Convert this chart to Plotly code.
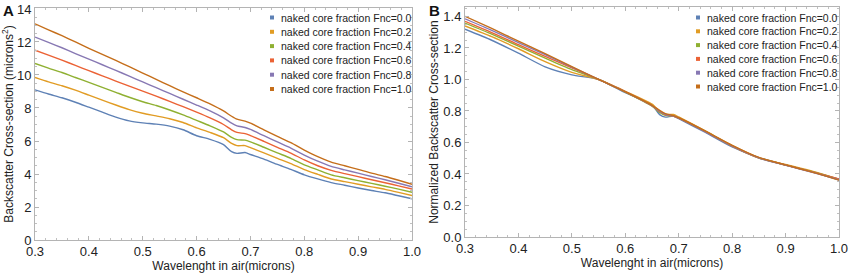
import plotly.graph_objects as go

# ---------------- data ----------------
wavelength_a = [0.30, 0.325, 0.35, 0.375, 0.40, 0.425, 0.45, 0.475, 0.50, 0.525, 0.55, 0.575,
                0.60, 0.625, 0.65, 0.665, 0.675, 0.69, 0.70, 0.725, 0.75, 0.775, 0.80, 0.825,
                0.85, 0.875, 0.90, 0.925, 0.95, 0.975, 1.00]

fnc_labels = ["naked core fraction Fnc=0.0", "naked core fraction Fnc=0.2",
              "naked core fraction Fnc=0.4", "naked core fraction Fnc=0.6",
              "naked core fraction Fnc=0.8", "naked core fraction Fnc=1.0"]

cs_fnc00 = [9.10, 8.85, 8.62, 8.35, 8.05, 7.75, 7.45, 7.22, 7.10, 7.02, 6.90, 6.68,
            6.32, 6.10, 5.78, 5.35, 5.25, 5.30, 5.18, 4.90, 4.58, 4.28, 3.95, 3.70,
            3.48, 3.32, 3.15, 3.00, 2.86, 2.68, 2.50]
cs_fnc02 = [9.85, 9.58, 9.35, 9.08, 8.78, 8.48, 8.18, 7.90, 7.68, 7.52, 7.35, 7.12,
            6.80, 6.52, 6.20, 5.85, 5.72, 5.72, 5.60, 5.28, 4.95, 4.63, 4.27, 3.98,
            3.70, 3.54, 3.38, 3.22, 3.07, 2.89, 2.70]
cs_fnc04 = [10.70, 10.42, 10.15, 9.85, 9.55, 9.25, 8.95, 8.65, 8.38, 8.15, 7.88, 7.58,
            7.25, 6.92, 6.55, 6.22, 6.08, 6.05, 5.95, 5.62, 5.28, 4.95, 4.55, 4.25,
            3.95, 3.77, 3.60, 3.43, 3.26, 3.08, 2.89]
cs_fnc06 = [11.50, 11.20, 10.90, 10.58, 10.26, 9.95, 9.63, 9.32, 9.02, 8.72, 8.40, 8.08,
            7.75, 7.40, 7.00, 6.68, 6.52, 6.45, 6.33, 5.98, 5.62, 5.27, 4.85, 4.50,
            4.22, 4.02, 3.84, 3.65, 3.47, 3.28, 3.09]
cs_fnc08 = [12.30, 11.98, 11.65, 11.30, 10.96, 10.62, 10.28, 9.93, 9.58, 9.23, 8.88, 8.53,
            8.18, 7.82, 7.40, 7.08, 6.92, 6.82, 6.70, 6.32, 5.94, 5.57, 5.15, 4.78,
            4.46, 4.25, 4.05, 3.85, 3.65, 3.44, 3.23]
cs_fnc10 = [13.10, 12.74, 12.38, 12.00, 11.62, 11.25, 10.88, 10.50, 10.12, 9.73, 9.35, 8.98,
            8.62, 8.25, 7.82, 7.50, 7.32, 7.20, 7.08, 6.68, 6.28, 5.90, 5.45, 5.05,
            4.72, 4.50, 4.28, 4.05, 3.85, 3.62, 3.38]

wavelength_b = [0.30, 0.35, 0.40, 0.45, 0.50, 0.55, 0.60, 0.65, 0.665, 0.675, 0.69, 0.70,
                0.75, 0.80, 0.85, 0.90, 0.95, 1.00]
norm_fnc00 = [1.319, 1.249, 1.167, 1.080, 1.029, 1.000, 0.916, 0.838, 0.775, 0.761, 0.768, 0.751,
              0.664, 0.572, 0.504, 0.457, 0.414, 0.362]
norm_fnc02 = [1.340, 1.272, 1.195, 1.113, 1.045, 1.000, 0.925, 0.844, 0.796, 0.778, 0.778, 0.762,
              0.673, 0.581, 0.503, 0.460, 0.418, 0.367]
norm_fnc04 = [1.358, 1.288, 1.212, 1.136, 1.063, 1.000, 0.920, 0.831, 0.789, 0.772, 0.768, 0.755,
              0.670, 0.577, 0.501, 0.457, 0.414, 0.367]
norm_fnc06 = [1.369, 1.298, 1.221, 1.146, 1.074, 1.000, 0.923, 0.833, 0.795, 0.776, 0.768, 0.754,
              0.669, 0.577, 0.502, 0.457, 0.413, 0.368]
norm_fnc08 = [1.385, 1.312, 1.234, 1.158, 1.079, 1.000, 0.921, 0.833, 0.797, 0.779, 0.768, 0.755,
              0.669, 0.578, 0.502, 0.456, 0.411, 0.364]
norm_fnc10 = [1.401, 1.324, 1.243, 1.164, 1.082, 1.000, 0.922, 0.836, 0.802, 0.783, 0.770, 0.757,
              0.672, 0.582, 0.505, 0.458, 0.412, 0.361]

x_ticks = [0.3, 0.4, 0.5, 0.6, 0.7, 0.8, 0.9, 1.0]

# ---------------- styling ----------------
colors = ["#5E81B5", "#E19C24", "#8FB032", "#EB6235", "#8778B3", "#C56E1A"]
FONT = "Arial, Liberation Sans, sans-serif"
W, H = 851, 274
ML, MR, MT, MB = 35, 12, 7, 34
PW, PH = W - ML - MR, H - MT - MB


def px_x(p):
    """picture x pixel -> paper fraction"""
    return (p - ML) / PW


def px_y(p):
    """picture y pixel -> paper fraction"""
    return (H - MB - p) / PH


fig = go.Figure()
series_a = [cs_fnc00, cs_fnc02, cs_fnc04, cs_fnc06, cs_fnc08, cs_fnc10]
series_b = [norm_fnc00, norm_fnc02, norm_fnc04, norm_fnc06, norm_fnc08, norm_fnc10]
for name, ys, c in zip(fnc_labels, series_a, colors):
    fig.add_trace(go.Scatter(x=wavelength_a, y=ys, mode="lines", name=name,
                             line=dict(color=c, width=1.4, shape="spline", smoothing=0.6),
                             xaxis="x", yaxis="y", showlegend=False))
for name, ys, c in zip(fnc_labels, series_b, colors):
    fig.add_trace(go.Scatter(x=wavelength_b, y=ys, mode="lines", name=name,
                             line=dict(color=c, width=1.4, shape="spline", smoothing=0.6),
                             xaxis="x2", yaxis="y2", showlegend=False))

frame = dict(showline=True, mirror="allticks", linecolor="#b4b4b4", linewidth=1,
             ticks="inside", ticklen=4, tickcolor="#b4b4b4", showgrid=False, zeroline=False,
             tickfont=dict(family=FONT, size=13, color="#222222"), automargin=False)

xa = dict(frame, range=[0.3, 1.0], tickvals=x_ticks, tickformat=".1f", ticklabelstandoff=-1,
          minor=dict(dtick=0.02, ticks="inside", ticklen=2, tickcolor="#c0c0c0", showgrid=False),
          title=dict(text="Wavelenght in air(microns)", font=dict(family=FONT, size=12, color="#222222"),
                     standoff=2))

fig.update_layout(
    width=W, height=H,
    margin=dict(l=ML, r=MR, t=MT, b=MB),
    paper_bgcolor="white", plot_bgcolor="white",
    showlegend=False,
    xaxis=dict(xa, domain=[px_x(35), px_x(412)], anchor="y"),
    yaxis=dict(frame, range=[0, 14.06], dtick=2, domain=[px_y(240), px_y(8)], anchor="x",
               minor=dict(dtick=0.5, ticks="inside", ticklen=2, tickcolor="#c0c0c0", showgrid=False),
               title=dict(text="Backscatter Cross-section (microns<sup>2</sup>)",
                          font=dict(family=FONT, size=12, color="#222222"), standoff=3)),
    xaxis2=dict(xa, domain=[px_x(465), px_x(839)], anchor="y2"),
    yaxis2=dict(frame, range=[0, 1.46], dtick=0.2, tickformat=".1f",
                domain=[px_y(237), px_y(7)], anchor="x2",
                minor=dict(dtick=0.05, ticks="inside", ticklen=2, tickcolor="#c0c0c0", showgrid=False),
                title=dict(text="Normalized Backscatter Cross-section",
                           font=dict(family=FONT, size=12, color="#222222"), standoff=2)),
)

annotations = []
shapes = []
# panel letters
for letter, px in (("A", 8), ("B", 434)):
    annotations.append(dict(text="<b>%s</b>" % letter, x=px_x(px), y=px_y(10), xref="paper", yref="paper",
                            showarrow=False, xanchor="center", yanchor="middle",
                            font=dict(family=FONT, size=15, color="#111111")))
# legends drawn as text entries
for (sq_x, tx_x, y0, step) in ((272, 279, 17.5, 14.3), (698, 705, 17.5, 13.8)):
    for i, (name, c) in enumerate(zip(fnc_labels, colors)):
        yy = y0 + step * i
        shapes.append(dict(type="rect", xref="paper", yref="paper",
                           x0=px_x(sq_x - 2), x1=px_x(sq_x + 2), y0=px_y(yy + 2), y1=px_y(yy - 2),
                           fillcolor=c, line=dict(width=0)))
        annotations.append(dict(text=name, x=px_x(tx_x), y=px_y(yy), xref="paper", yref="paper",
                                showarrow=False, xanchor="left", yanchor="middle",
                                font=dict(family=FONT, size=10.5, color="#222222")))
fig.update_layout(annotations=annotations, shapes=shapes)

# remove the default 8px page margin so the figure sits at the window's top-left corner
fig.write_html("out.html", config={"displayModeBar": False},
               post_script="document.body.style.margin='0px';document.body.style.overflow='hidden';")
